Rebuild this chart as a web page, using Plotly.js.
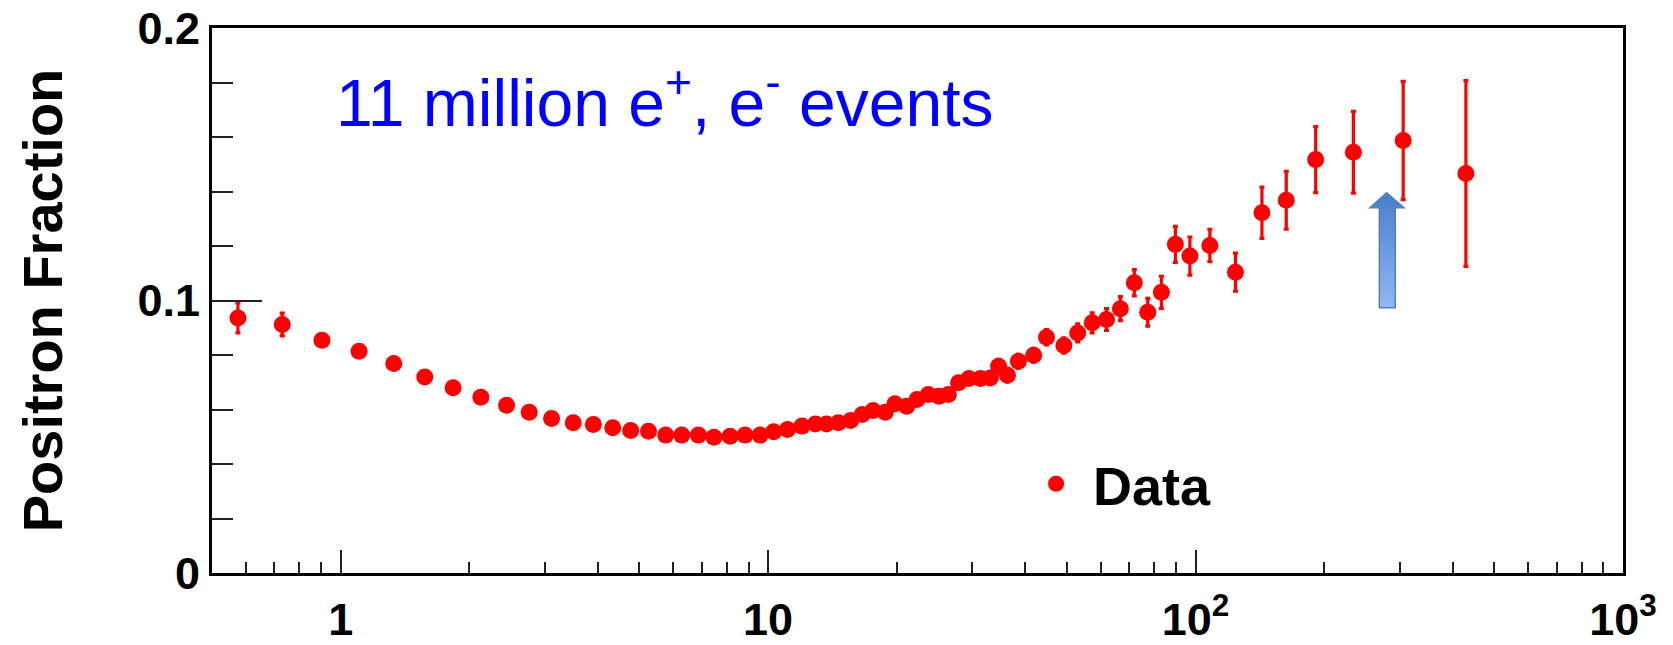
<!DOCTYPE html>
<html>
<head>
<meta charset="utf-8">
<script src="https://cdn.plot.ly/plotly-3.0.1.min.js"></script>
<style>
  html, body { margin: 0; padding: 0; background: #ffffff; }
  #chart { width: 1673px; height: 645px; }
</style>
</head>
<body>
<div id="chart"></div>
<script>
// ---- data ----
const energy = [
  0.575, 0.730, 0.904, 1.104, 1.331, 1.573, 1.832, 2.128, 2.444, 2.761,
  3.114, 3.50, 3.90, 4.33, 4.77, 5.25, 5.76, 6.28, 6.87, 7.47,
  8.15, 8.83, 9.58, 10.3, 11.1, 12.0, 12.9, 13.7, 14.6, 15.6,
  16.6, 17.6, 18.8, 19.8, 21.1, 22.3, 23.7, 25.1, 26.4, 27.9,
  29.5, 31.4, 33.1, 34.6, 36.3, 38.5, 41.8, 44.8, 49.2, 53.0,
  57.3, 61.9, 66.7, 71.9, 77.3, 83.2, 89.7, 97.0, 108, 124,
  143, 163, 191, 234, 306, 429
];
const fraction = [
  0.0936, 0.0912, 0.0854, 0.0814, 0.0769, 0.0719, 0.0680, 0.0645, 0.0616, 0.0590,
  0.0567, 0.0551, 0.0545, 0.0533, 0.0523, 0.0520, 0.0506, 0.0506, 0.0506, 0.0498,
  0.0502, 0.0506, 0.0506, 0.0518, 0.0527, 0.0539, 0.0547, 0.0547, 0.0551, 0.0560,
  0.0582, 0.0596, 0.0590, 0.0621, 0.0612, 0.0637, 0.0655, 0.0649, 0.0655, 0.0698,
  0.0714, 0.0714, 0.0716, 0.0759, 0.0726, 0.0777, 0.0799, 0.0865, 0.0835, 0.0881,
  0.0918, 0.0930, 0.0970, 0.1065, 0.0957, 0.1030, 0.1206, 0.1163, 0.1202, 0.1104,
  0.1322, 0.1368, 0.1517, 0.1544, 0.1587, 0.1466
];
const fractionErr = [
  0.0055, 0.0042, 0, 0, 0, 0, 0, 0, 0, 0,
  0, 0, 0, 0, 0, 0, 0, 0, 0, 0,
  0, 0, 0, 0, 0, 0, 0, 0, 0, 0,
  0, 0, 0, 0, 0, 0, 0, 0, 0, 0,
  0, 0, 0, 0.0025, 0.0025, 0.0025, 0.0025, 0.0028, 0.0028, 0.0033,
  0.0037, 0.0040, 0.0044, 0.0048, 0.0051, 0.0059, 0.0066, 0.0070, 0.0059, 0.0070,
  0.0094, 0.0106, 0.0121, 0.0150, 0.0217, 0.0341
];
const xTickVals = [1, 10, 100, 1000];
const xTickText = ['1', '10', '10<sup>2</sup>', '10<sup>3</sup>'];
const yTickVals = [0, 0.1, 0.2];
const yTickText = ['0', '0.1', '0.2'];
const seriesName = 'Data';
const annotationText = '11 million e<sup>+</sup>, e<sup>-</sup> events';
const yTitle = 'Positron Fraction';

// minor tick positions on the log axis (2..9 of each decade)
const xMinor = [];
[0.1, 1, 10, 100].forEach(d => { for (let k = 2; k <= 9; k++) { const v = d * k; if (v > 0.5 && v < 1000) xMinor.push(v); } });

const FONT = '"Liberation Sans", Arial, Helvetica, sans-serif';

const trace = {
  type: 'scatter',
  mode: 'markers',
  name: seriesName,
  x: energy,
  y: fraction,
  marker: { color: '#ff0000', size: 17, line: { width: 0 } },
  error_y: { type: 'data', array: fractionErr, visible: true, color: '#ff0000', thickness: 3.2, width: 2.5 },
  cliponaxis: false,
  showlegend: true
};

const layout = {
  width: 1673,
  height: 645,
  margin: { l: 212, r: 50, t: 28, b: 72, pad: 0 },
  paper_bgcolor: '#ffffff',
  plot_bgcolor: '#ffffff',
  font: { family: FONT, color: '#000000' },
  showlegend: true,
  legend: {
    x: 0.572, y: 0.163, xanchor: 'left', yanchor: 'middle',
    bgcolor: 'rgba(0,0,0,0)', borderwidth: 0,
    itemwidth: 64,
    font: { family: FONT, size: 54, color: '#000000', weight: 'bold' }
  },
  xaxis: {
    type: 'log',
    range: [Math.log10(0.5), 3],
    tickmode: 'array',
    tickvals: xTickVals,
    ticktext: xTickText,
    ticks: 'inside',
    ticklen: 23,
    tickwidth: 2,
    tickcolor: '#222222',
    minor: { tickmode: 'array', tickvals: xMinor, ticks: 'inside', ticklen: 11, tickwidth: 2, tickcolor: '#222222', showgrid: false },
    showline: true,
    linewidth: 3,
    linecolor: '#000000',
    mirror: true,
    showgrid: false,
    zeroline: false,
    tickfont: { family: FONT, size: 45, color: '#000000', weight: 'bold' },
    ticklabelstandoff: 5
  },
  yaxis: {
    range: [0, 0.2],
    tickmode: 'array',
    tickvals: yTickVals,
    ticktext: yTickText,
    ticks: 'inside',
    ticklen: 50,
    tickwidth: 2,
    tickcolor: '#222222',
    minor: { dtick: 0.02, tick0: 0, ticks: 'inside', ticklen: 21, tickwidth: 2, tickcolor: '#222222', showgrid: false },
    showline: true,
    linewidth: 3,
    linecolor: '#000000',
    mirror: true,
    showgrid: false,
    zeroline: false,
    tickfont: { family: FONT, size: 45, color: '#000000', weight: 'bold' },
    ticklabelstandoff: 0,
    title: {
      text: yTitle,
      font: { family: FONT, size: 56, color: '#000000', weight: 'bold' },
      standoff: 57
    }
  },
  annotations: [{
    xref: 'paper', yref: 'paper',
    x: 0.0865, y: 0.871,
    xanchor: 'left', yanchor: 'middle',
    showarrow: false,
    text: annotationText,
    font: { family: FONT, size: 66, color: '#0000ff' }
  }],
  shapes: [{
    type: 'path',
    xref: 'paper', yref: 'paper',
    path: 'M 0.8325 0.6976 L 0.8448 0.6701 L 0.8386 0.6701 L 0.8386 0.4866 L 0.8273 0.4866 L 0.8273 0.6701 L 0.8207 0.6701 Z',
    fillcolor: '#6f9fe0',
    line: { color: '#4f81bd', width: 1.5 },
    layer: 'above'
  }]
};

Plotly.newPlot('chart', [trace], layout, { staticPlot: true, displayModeBar: false }).then(function (gd) {
  try {
    const svg = gd.querySelector('svg.main-svg');
    let defs = svg.querySelector('defs');
    if (!defs) { defs = document.createElementNS('http://www.w3.org/2000/svg', 'defs'); svg.insertBefore(defs, svg.firstChild); }
    const grad = document.createElementNS('http://www.w3.org/2000/svg', 'linearGradient');
    grad.setAttribute('id', 'arrowGrad');
    grad.setAttribute('x1', '0'); grad.setAttribute('y1', '0');
    grad.setAttribute('x2', '0'); grad.setAttribute('y2', '1');
    [['0', '#4a7dc9'], ['1', '#92b8f4']].forEach(function (s) {
      const st = document.createElementNS('http://www.w3.org/2000/svg', 'stop');
      st.setAttribute('offset', s[0]); st.setAttribute('stop-color', s[1]);
      grad.appendChild(st);
    });
    defs.appendChild(grad);
    const shapePaths = gd.querySelectorAll('.shapelayer path');
    shapePaths.forEach(function (p) { p.style.fill = 'url(#arrowGrad)'; p.style.fillOpacity = 1; });
  } catch (e) { /* keep solid fill */ }
});
</script>
</body>
</html>
